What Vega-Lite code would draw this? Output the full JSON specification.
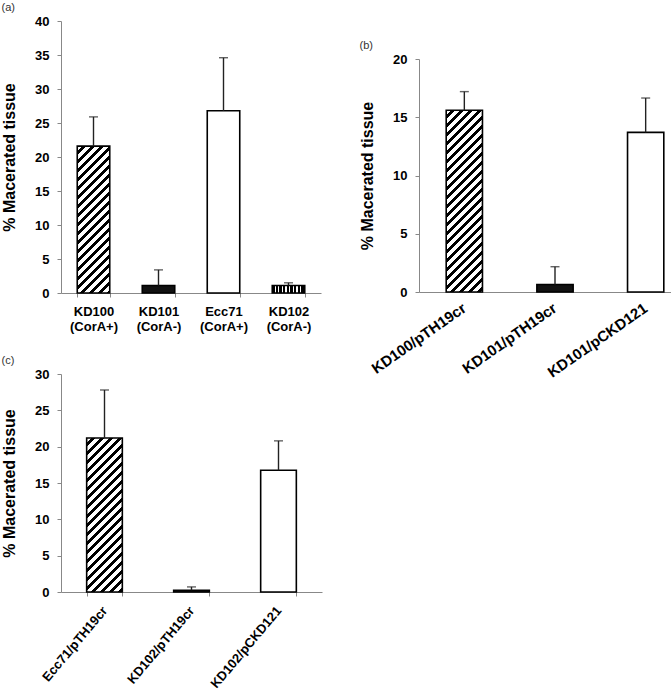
{
  "$schema": "https://vega.github.io/schema/vega-lite/v6.json",
  "background": "white",
  "padding": {"left": 1, "top": 2, "right": 0, "bottom": 0},
  "config": {
    "view": {"stroke": null},
    "font": "Liberation Sans",
    "axis": {"domainColor": "#888", "tickColor": "#888", "tickSize": 4, "grid": false, "labelFont": "Liberation Sans", "labelFontWeight": "bold", "labelFontSize": 13, "labelColor": "#000", "titleFont": "Liberation Sans", "titleFontWeight": "bold", "titleFontSize": 16, "titleColor": "#000", "labelOverlap": false},
    "axisY": {"labelPadding": 8, "titlePadding": 17},
    "title": {"font": "Liberation Sans", "fontSize": 11, "fontWeight": "normal", "color": "#333", "anchor": "start", "frame": "bounds", "offset": 2}
  },
  "spacing": 37,
  "hconcat": [
    {
      "spacing": 22,
      "vconcat": [
        {
          "title": {"text": "(a)"},
          "width": 260, "height": 272,
          "data": {"values": [
            {"strain": "KD100 (CorA+)", "value": 21.6, "upper": 25.9},
            {"strain": "KD101 (CorA-)", "value": 1.1, "upper": 3.4},
            {"strain": "Ecc71 (CorA+)", "value": 26.8, "upper": 34.6},
            {"strain": "KD102 (CorA-)", "value": 1.1, "upper": 1.5}
          ]},
          "encoding": {
            "x": {"field": "strain", "type": "nominal", "sort": null, "scale": {"paddingInner": 0.5, "paddingOuter": 0.25}, "axis": {"title": null, "labelAngle": 0, "labelExpr": "split(datum.label, ' ')", "tickBand": "extent", "labelPadding": 8, "labelLineHeight": 15}},
            "y": {"field": "value", "type": "quantitative", "scale": {"domain": [0, 40]}, "axis": {"title": "% Macerated tissue", "values": [0, 5, 10, 15, 20, 25, 30, 35, 40], "labelOverlap": false}}
          },
          "layer": [
            {"mark": {"type": "bar", "stroke": "#000", "strokeWidth": 1.6},
             "encoding": {
               "fill": {"condition": [
                 {"test": "datum.strain === 'KD100 (CorA+)'", "value": {"gradient": "linear", "x1": 0, "y1": 0, "x2": 0.323, "y2": 1.46, "stops": [
{"offset":0,"color":"#fff"},{"offset":0.022,"color":"#fff"},{"offset":0.022,"color":"#000"},{"offset":0.04,"color":"#000"},
{"offset":0.04,"color":"#fff"},{"offset":0.062,"color":"#fff"},{"offset":0.062,"color":"#000"},{"offset":0.08,"color":"#000"},
{"offset":0.08,"color":"#fff"},{"offset":0.102,"color":"#fff"},{"offset":0.102,"color":"#000"},{"offset":0.12,"color":"#000"},
{"offset":0.12,"color":"#fff"},{"offset":0.142,"color":"#fff"},{"offset":0.142,"color":"#000"},{"offset":0.16,"color":"#000"},
{"offset":0.16,"color":"#fff"},{"offset":0.182,"color":"#fff"},{"offset":0.182,"color":"#000"},{"offset":0.2,"color":"#000"},
{"offset":0.2,"color":"#fff"},{"offset":0.222,"color":"#fff"},{"offset":0.222,"color":"#000"},{"offset":0.24,"color":"#000"},
{"offset":0.24,"color":"#fff"},{"offset":0.262,"color":"#fff"},{"offset":0.262,"color":"#000"},{"offset":0.28,"color":"#000"},
{"offset":0.28,"color":"#fff"},{"offset":0.302,"color":"#fff"},{"offset":0.302,"color":"#000"},{"offset":0.32,"color":"#000"},
{"offset":0.32,"color":"#fff"},{"offset":0.342,"color":"#fff"},{"offset":0.342,"color":"#000"},{"offset":0.36,"color":"#000"},
{"offset":0.36,"color":"#fff"},{"offset":0.382,"color":"#fff"},{"offset":0.382,"color":"#000"},{"offset":0.4,"color":"#000"},
{"offset":0.4,"color":"#fff"},{"offset":0.422,"color":"#fff"},{"offset":0.422,"color":"#000"},{"offset":0.44,"color":"#000"},
{"offset":0.44,"color":"#fff"},{"offset":0.462,"color":"#fff"},{"offset":0.462,"color":"#000"},{"offset":0.48,"color":"#000"},
{"offset":0.48,"color":"#fff"},{"offset":0.502,"color":"#fff"},{"offset":0.502,"color":"#000"},{"offset":0.52,"color":"#000"},
{"offset":0.52,"color":"#fff"},{"offset":0.542,"color":"#fff"},{"offset":0.542,"color":"#000"},{"offset":0.56,"color":"#000"},
{"offset":0.56,"color":"#fff"},{"offset":0.582,"color":"#fff"},{"offset":0.582,"color":"#000"},{"offset":0.6,"color":"#000"},
{"offset":0.6,"color":"#fff"},{"offset":0.622,"color":"#fff"},{"offset":0.622,"color":"#000"},{"offset":0.64,"color":"#000"},
{"offset":0.64,"color":"#fff"},{"offset":0.662,"color":"#fff"},{"offset":0.662,"color":"#000"},{"offset":0.68,"color":"#000"},
{"offset":0.68,"color":"#fff"},{"offset":0.702,"color":"#fff"},{"offset":0.702,"color":"#000"},{"offset":0.72,"color":"#000"},
{"offset":0.72,"color":"#fff"},{"offset":0.742,"color":"#fff"},{"offset":0.742,"color":"#000"},{"offset":0.76,"color":"#000"},
{"offset":0.76,"color":"#fff"},{"offset":0.782,"color":"#fff"},{"offset":0.782,"color":"#000"},{"offset":0.8,"color":"#000"},
{"offset":0.8,"color":"#fff"},{"offset":0.822,"color":"#fff"},{"offset":0.822,"color":"#000"},{"offset":0.84,"color":"#000"},
{"offset":0.84,"color":"#fff"},{"offset":0.862,"color":"#fff"},{"offset":0.862,"color":"#000"},{"offset":0.88,"color":"#000"},
{"offset":0.88,"color":"#fff"},{"offset":0.902,"color":"#fff"},{"offset":0.902,"color":"#000"},{"offset":0.92,"color":"#000"},
{"offset":0.92,"color":"#fff"},{"offset":0.942,"color":"#fff"},{"offset":0.942,"color":"#000"},{"offset":0.96,"color":"#000"},
{"offset":0.96,"color":"#fff"},{"offset":0.982,"color":"#fff"},{"offset":0.982,"color":"#000"},{"offset":1,"color":"#000"}
                 ]}},
                 {"test": "datum.strain === 'KD101 (CorA-)'", "value": "#111"},
                 {"test": "datum.strain === 'KD102 (CorA-)'", "value": {"gradient": "linear", "x1": 0, "y1": 0, "x2": 1, "y2": 0, "stops": [
{"offset":0,"color":"#000"},{"offset":0.07,"color":"#000"},{"offset":0.07,"color":"#fff"},{"offset":0.111,"color":"#fff"},
{"offset":0.111,"color":"#000"},{"offset":0.181,"color":"#000"},{"offset":0.181,"color":"#fff"},{"offset":0.222,"color":"#fff"},
{"offset":0.222,"color":"#000"},{"offset":0.292,"color":"#000"},{"offset":0.292,"color":"#fff"},{"offset":0.333,"color":"#fff"},
{"offset":0.333,"color":"#000"},{"offset":0.403,"color":"#000"},{"offset":0.403,"color":"#fff"},{"offset":0.444,"color":"#fff"},
{"offset":0.444,"color":"#000"},{"offset":0.514,"color":"#000"},{"offset":0.514,"color":"#fff"},{"offset":0.555,"color":"#fff"},
{"offset":0.555,"color":"#000"},{"offset":0.625,"color":"#000"},{"offset":0.625,"color":"#fff"},{"offset":0.666,"color":"#fff"},
{"offset":0.666,"color":"#000"},{"offset":0.736,"color":"#000"},{"offset":0.736,"color":"#fff"},{"offset":0.777,"color":"#fff"},
{"offset":0.777,"color":"#000"},{"offset":0.847,"color":"#000"},{"offset":0.847,"color":"#fff"},{"offset":0.888,"color":"#fff"},
{"offset":0.888,"color":"#000"},{"offset":1,"color":"#000"}
                 ]}}
               ], "value": "#fff"}
             }},
            {"mark": {"type": "rule", "color": "#222", "strokeWidth": 1.4}, "encoding": {"y2": {"field": "upper"}}},
            {"mark": {"type": "tick", "color": "#222", "thickness": 1.4, "size": 9}, "encoding": {"y": {"field": "upper", "type": "quantitative", "scale": {"domain": [0, 40]}, "axis": {"title": "% Macerated tissue", "values": [0, 5, 10, 15, 20, 25, 30, 35, 40], "labelOverlap": false}}}}
          ]
        },
        {
          "title": {"text": "(c)"},
          "width": 261, "height": 218,
          "data": {"values": [
            {"strain": "Ecc71/pTH19cr", "value": 21.2, "upper": 27.8},
            {"strain": "KD102/pTH19cr", "value": 0.25, "upper": 0.7},
            {"strain": "KD102/pCKD121", "value": 16.75, "upper": 20.8}
          ]},
          "encoding": {
            "x": {"field": "strain", "type": "nominal", "sort": null, "scale": {"paddingInner": 0.59, "paddingOuter": 0.295}, "axis": {"title": null, "labelAngle": -50, "labelAlign": "right", "labelBaseline": "middle", "tickBand": "extent", "labelPadding": 12, "labelFontSize": 13}},
            "y": {"field": "value", "type": "quantitative", "scale": {"domain": [0, 30]}, "axis": {"title": "% Macerated tissue", "values": [0, 5, 10, 15, 20, 25, 30], "labelOverlap": false}}
          },
          "layer": [
            {"mark": {"type": "bar", "stroke": "#000", "strokeWidth": 1.6},
             "encoding": {
               "fill": {"condition": [
                 {"test": "datum.strain === 'Ecc71/pTH19cr'", "value": {"gradient": "linear", "x1": 0, "y1": 0, "x2": 0.321, "y2": 1.386, "stops": [
{"offset":0,"color":"#fff"},{"offset":0.022,"color":"#fff"},{"offset":0.022,"color":"#000"},{"offset":0.04,"color":"#000"},
{"offset":0.04,"color":"#fff"},{"offset":0.062,"color":"#fff"},{"offset":0.062,"color":"#000"},{"offset":0.08,"color":"#000"},
{"offset":0.08,"color":"#fff"},{"offset":0.102,"color":"#fff"},{"offset":0.102,"color":"#000"},{"offset":0.12,"color":"#000"},
{"offset":0.12,"color":"#fff"},{"offset":0.142,"color":"#fff"},{"offset":0.142,"color":"#000"},{"offset":0.16,"color":"#000"},
{"offset":0.16,"color":"#fff"},{"offset":0.182,"color":"#fff"},{"offset":0.182,"color":"#000"},{"offset":0.2,"color":"#000"},
{"offset":0.2,"color":"#fff"},{"offset":0.222,"color":"#fff"},{"offset":0.222,"color":"#000"},{"offset":0.24,"color":"#000"},
{"offset":0.24,"color":"#fff"},{"offset":0.262,"color":"#fff"},{"offset":0.262,"color":"#000"},{"offset":0.28,"color":"#000"},
{"offset":0.28,"color":"#fff"},{"offset":0.302,"color":"#fff"},{"offset":0.302,"color":"#000"},{"offset":0.32,"color":"#000"},
{"offset":0.32,"color":"#fff"},{"offset":0.342,"color":"#fff"},{"offset":0.342,"color":"#000"},{"offset":0.36,"color":"#000"},
{"offset":0.36,"color":"#fff"},{"offset":0.382,"color":"#fff"},{"offset":0.382,"color":"#000"},{"offset":0.4,"color":"#000"},
{"offset":0.4,"color":"#fff"},{"offset":0.422,"color":"#fff"},{"offset":0.422,"color":"#000"},{"offset":0.44,"color":"#000"},
{"offset":0.44,"color":"#fff"},{"offset":0.462,"color":"#fff"},{"offset":0.462,"color":"#000"},{"offset":0.48,"color":"#000"},
{"offset":0.48,"color":"#fff"},{"offset":0.502,"color":"#fff"},{"offset":0.502,"color":"#000"},{"offset":0.52,"color":"#000"},
{"offset":0.52,"color":"#fff"},{"offset":0.542,"color":"#fff"},{"offset":0.542,"color":"#000"},{"offset":0.56,"color":"#000"},
{"offset":0.56,"color":"#fff"},{"offset":0.582,"color":"#fff"},{"offset":0.582,"color":"#000"},{"offset":0.6,"color":"#000"},
{"offset":0.6,"color":"#fff"},{"offset":0.622,"color":"#fff"},{"offset":0.622,"color":"#000"},{"offset":0.64,"color":"#000"},
{"offset":0.64,"color":"#fff"},{"offset":0.662,"color":"#fff"},{"offset":0.662,"color":"#000"},{"offset":0.68,"color":"#000"},
{"offset":0.68,"color":"#fff"},{"offset":0.702,"color":"#fff"},{"offset":0.702,"color":"#000"},{"offset":0.72,"color":"#000"},
{"offset":0.72,"color":"#fff"},{"offset":0.742,"color":"#fff"},{"offset":0.742,"color":"#000"},{"offset":0.76,"color":"#000"},
{"offset":0.76,"color":"#fff"},{"offset":0.782,"color":"#fff"},{"offset":0.782,"color":"#000"},{"offset":0.8,"color":"#000"},
{"offset":0.8,"color":"#fff"},{"offset":0.822,"color":"#fff"},{"offset":0.822,"color":"#000"},{"offset":0.84,"color":"#000"},
{"offset":0.84,"color":"#fff"},{"offset":0.862,"color":"#fff"},{"offset":0.862,"color":"#000"},{"offset":0.88,"color":"#000"},
{"offset":0.88,"color":"#fff"},{"offset":0.902,"color":"#fff"},{"offset":0.902,"color":"#000"},{"offset":0.92,"color":"#000"},
{"offset":0.92,"color":"#fff"},{"offset":0.942,"color":"#fff"},{"offset":0.942,"color":"#000"},{"offset":0.96,"color":"#000"},
{"offset":0.96,"color":"#fff"},{"offset":0.982,"color":"#fff"},{"offset":0.982,"color":"#000"},{"offset":1,"color":"#000"}
                 ]}},
                 {"test": "datum.strain === 'KD102/pTH19cr'", "value": "#111"}
               ], "value": "#fff"}
             }},
            {"mark": {"type": "rule", "color": "#222", "strokeWidth": 1.4}, "encoding": {"y2": {"field": "upper"}}},
            {"mark": {"type": "tick", "color": "#222", "thickness": 1.4, "size": 9}, "encoding": {"y": {"field": "upper", "type": "quantitative", "scale": {"domain": [0, 30]}, "axis": {"title": "% Macerated tissue", "values": [0, 5, 10, 15, 20, 25, 30], "labelOverlap": false}}}}
          ]
        }
      ]
    },
    {
      "spacing": 18,
      "vconcat": [
        {
          "width": 272, "height": 1,
          "data": {"values": [{}]},
          "mark": {"type": "rule", "opacity": 0},
          "encoding": {}
        },
        {
          "title": {"text": "(b)"},
          "width": 272, "height": 233,
          "data": {"values": [
            {"strain": "KD100/pTH19cr", "value": 15.6, "upper": 17.2},
            {"strain": "KD101/pTH19cr", "value": 0.65, "upper": 2.17},
            {"strain": "KD101/pCKD121", "value": 13.7, "upper": 16.65}
          ]},
          "encoding": {
            "x": {"field": "strain", "type": "nominal", "sort": null, "scale": {"paddingInner": 0.6, "paddingOuter": 0.3}, "axis": {"title": null, "labelAngle": -35, "labelAlign": "right", "labelBaseline": "middle", "ticks": false, "labelPadding": 14, "labelFontSize": 15}},
            "y": {"field": "value", "type": "quantitative", "scale": {"domain": [0, 20]}, "axis": {"title": "% Macerated tissue", "values": [0, 5, 10, 15, 20], "labelOverlap": false}}
          },
          "layer": [
            {"mark": {"type": "bar", "stroke": "#000", "strokeWidth": 1.6},
             "encoding": {
               "fill": {"condition": [
                 {"test": "datum.strain === 'KD100/pTH19cr'", "value": {"gradient": "linear", "x1": 0, "y1": 0, "x2": 0.236, "y2": 1.192, "stops": [
{"offset":0,"color":"#fff"},{"offset":0.022,"color":"#fff"},{"offset":0.022,"color":"#000"},{"offset":0.04,"color":"#000"},
{"offset":0.04,"color":"#fff"},{"offset":0.062,"color":"#fff"},{"offset":0.062,"color":"#000"},{"offset":0.08,"color":"#000"},
{"offset":0.08,"color":"#fff"},{"offset":0.102,"color":"#fff"},{"offset":0.102,"color":"#000"},{"offset":0.12,"color":"#000"},
{"offset":0.12,"color":"#fff"},{"offset":0.142,"color":"#fff"},{"offset":0.142,"color":"#000"},{"offset":0.16,"color":"#000"},
{"offset":0.16,"color":"#fff"},{"offset":0.182,"color":"#fff"},{"offset":0.182,"color":"#000"},{"offset":0.2,"color":"#000"},
{"offset":0.2,"color":"#fff"},{"offset":0.222,"color":"#fff"},{"offset":0.222,"color":"#000"},{"offset":0.24,"color":"#000"},
{"offset":0.24,"color":"#fff"},{"offset":0.262,"color":"#fff"},{"offset":0.262,"color":"#000"},{"offset":0.28,"color":"#000"},
{"offset":0.28,"color":"#fff"},{"offset":0.302,"color":"#fff"},{"offset":0.302,"color":"#000"},{"offset":0.32,"color":"#000"},
{"offset":0.32,"color":"#fff"},{"offset":0.342,"color":"#fff"},{"offset":0.342,"color":"#000"},{"offset":0.36,"color":"#000"},
{"offset":0.36,"color":"#fff"},{"offset":0.382,"color":"#fff"},{"offset":0.382,"color":"#000"},{"offset":0.4,"color":"#000"},
{"offset":0.4,"color":"#fff"},{"offset":0.422,"color":"#fff"},{"offset":0.422,"color":"#000"},{"offset":0.44,"color":"#000"},
{"offset":0.44,"color":"#fff"},{"offset":0.462,"color":"#fff"},{"offset":0.462,"color":"#000"},{"offset":0.48,"color":"#000"},
{"offset":0.48,"color":"#fff"},{"offset":0.502,"color":"#fff"},{"offset":0.502,"color":"#000"},{"offset":0.52,"color":"#000"},
{"offset":0.52,"color":"#fff"},{"offset":0.542,"color":"#fff"},{"offset":0.542,"color":"#000"},{"offset":0.56,"color":"#000"},
{"offset":0.56,"color":"#fff"},{"offset":0.582,"color":"#fff"},{"offset":0.582,"color":"#000"},{"offset":0.6,"color":"#000"},
{"offset":0.6,"color":"#fff"},{"offset":0.622,"color":"#fff"},{"offset":0.622,"color":"#000"},{"offset":0.64,"color":"#000"},
{"offset":0.64,"color":"#fff"},{"offset":0.662,"color":"#fff"},{"offset":0.662,"color":"#000"},{"offset":0.68,"color":"#000"},
{"offset":0.68,"color":"#fff"},{"offset":0.702,"color":"#fff"},{"offset":0.702,"color":"#000"},{"offset":0.72,"color":"#000"},
{"offset":0.72,"color":"#fff"},{"offset":0.742,"color":"#fff"},{"offset":0.742,"color":"#000"},{"offset":0.76,"color":"#000"},
{"offset":0.76,"color":"#fff"},{"offset":0.782,"color":"#fff"},{"offset":0.782,"color":"#000"},{"offset":0.8,"color":"#000"},
{"offset":0.8,"color":"#fff"},{"offset":0.822,"color":"#fff"},{"offset":0.822,"color":"#000"},{"offset":0.84,"color":"#000"},
{"offset":0.84,"color":"#fff"},{"offset":0.862,"color":"#fff"},{"offset":0.862,"color":"#000"},{"offset":0.88,"color":"#000"},
{"offset":0.88,"color":"#fff"},{"offset":0.902,"color":"#fff"},{"offset":0.902,"color":"#000"},{"offset":0.92,"color":"#000"},
{"offset":0.92,"color":"#fff"},{"offset":0.942,"color":"#fff"},{"offset":0.942,"color":"#000"},{"offset":0.96,"color":"#000"},
{"offset":0.96,"color":"#fff"},{"offset":0.982,"color":"#fff"},{"offset":0.982,"color":"#000"},{"offset":1,"color":"#000"}
                 ]}},
                 {"test": "datum.strain === 'KD101/pTH19cr'", "value": "#111"}
               ], "value": "#fff"}
             }},
            {"mark": {"type": "rule", "color": "#222", "strokeWidth": 1.4}, "encoding": {"y2": {"field": "upper"}}},
            {"mark": {"type": "tick", "color": "#222", "thickness": 1.4, "size": 9}, "encoding": {"y": {"field": "upper", "type": "quantitative", "scale": {"domain": [0, 20]}, "axis": {"title": "% Macerated tissue", "values": [0, 5, 10, 15, 20], "labelOverlap": false}}}}
          ]
        }
      ]
    }
  ]
}
